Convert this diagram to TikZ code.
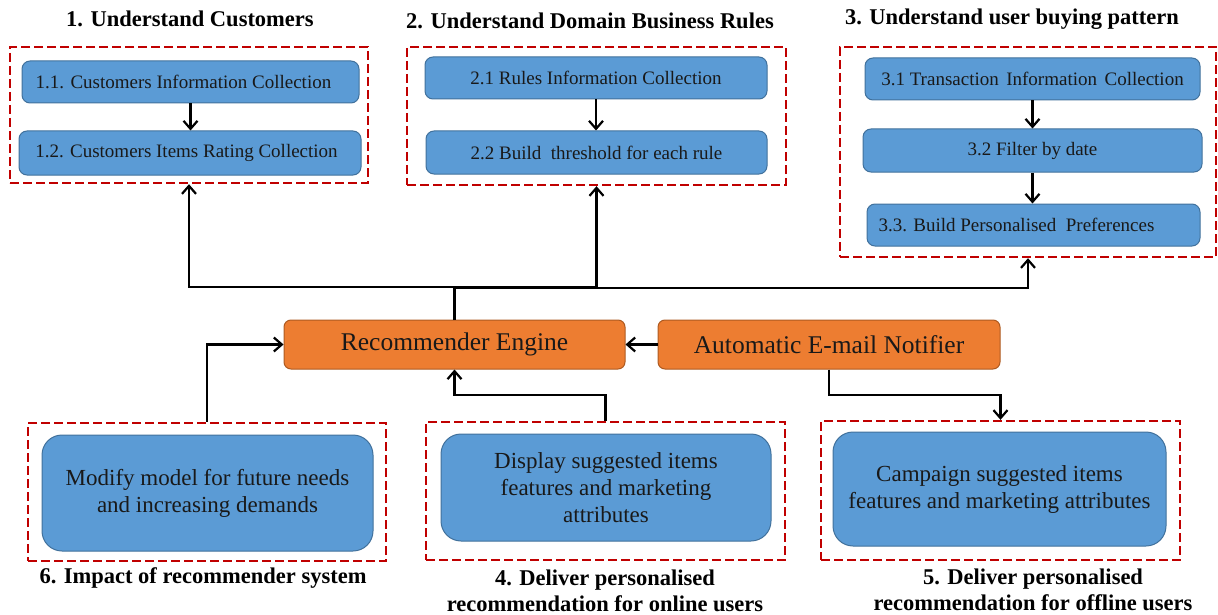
\documentclass[tikz,border=0pt]{standalone}
\usepackage{fontspec}
\setmainfont{Liberation Serif}
\usetikzlibrary{arrows.meta}

\definecolor{boxblue}{HTML}{5B9BD5}
\definecolor{boxblueline}{HTML}{41719C}
\definecolor{boxorange}{HTML}{ED7D31}
\definecolor{boxorangeline}{HTML}{AE5A21}
\definecolor{groupred}{HTML}{C00000}

% trailing gap that shifts a centred label to the left
\newcommand{\padright}[1]{\hspace*{#1}\null}

\tikzset{
  stepbox/.style={draw=boxblueline, line width=1pt, fill=boxblue, rounded corners=8pt,
    inner sep=0pt, font=\fontsize{19}{22}\selectfont, text=black!90},
  bigbox/.style={draw=boxblueline, line width=1pt, fill=boxblue, rounded corners=20pt,
    inner sep=0pt, align=center, font=\fontsize{23}{27}\selectfont, text=black!90},
  enginebox/.style={draw=boxorangeline, line width=1pt, fill=boxorange, rounded corners=7pt,
    inner sep=0pt, font=\fontsize{25.5}{29}\selectfont, text=black!90},
  group/.style={draw=groupred, line width=2.4pt, dash pattern=on 9pt off 4pt, inner sep=0pt},
  heading/.style={font=\fontsize{22.5}{26}\selectfont\bfseries, align=center, inner sep=0pt},
  link/.style={line width=2.2pt, -{Straight Barb[length=8pt,width=14pt,line width=2.2pt]}},
  twolink/.style={line width=2.2pt, {Straight Barb[length=8pt,width=14pt,line width=2.2pt]}-{Straight Barb[length=8pt,width=14pt,line width=2.2pt]}},
}

\begin{document}
\begin{tikzpicture}[x=1pt,y=-1pt]
\useasboundingbox (0,0) rectangle (1218,615);

% headings
\node[heading] (h1) at (190,19) {1. Understand Customers};
\node[heading] (h2) at (590,21) {2. Understand Domain Business Rules};
\node[heading] (h3) at (1012,19) {3. Understand user buying pattern};
\node[heading] (h6) at (203,578) {6. Impact of recommender system};
\node[heading] (h4) at (605,591) {4. Deliver personalised\\recommendation for online users};
\node[heading] (h5) at (1033,590) {5. Deliver personalised\\recommendation for offline users};

% dashed groups
\node[group, minimum width=358pt, minimum height=136pt] (d1) at (189,115) {};
\node[group, minimum width=379pt, minimum height=138pt] (d2) at (596.5,116) {};
\node[group, minimum width=376pt, minimum height=210pt] (d3) at (1028,152) {};
\node[group, minimum width=358pt, minimum height=138pt] (d6) at (207,492) {};
\node[group, minimum width=359pt, minimum height=138pt] (d4) at (605.5,491) {};
\node[group, minimum width=359pt, minimum height=139pt] (d5) at (1000.5,490.5) {};

% group 1
\node[stepbox, minimum width=337pt, minimum height=42pt] (b11) at (190.5,82) {1.1. Customers Information Collection\padright{14pt}};
\node[stepbox, minimum width=342pt, minimum height=44pt] (b12) at (190,153) {1.2. Customers Items Rating Collection\padright{7pt}};
% group 2
\node[stepbox, minimum width=342pt, minimum height=42pt] (b21) at (596,78) {2.1 Rules Information Collection};
\node[stepbox, minimum width=341pt, minimum height=43pt] (b22) at (596.5,152.5) {2.2 Build\ \ threshold for each rule};
% group 3
\node[stepbox, minimum width=335pt, minimum height=42pt] (b31) at (1032.5,79) {3.1 Transaction\hspace{7.5pt}Information\hspace{7.5pt}Collection};
\node[stepbox, minimum width=339pt, minimum height=43pt] (b32) at (1032.5,150.5) {3.2 Filter by date};
\node[stepbox, minimum width=333pt, minimum height=42pt] (b33) at (1033.5,225) {3.3. Build Personalised\ \ Preferences\padright{34pt}};

% engine row
\node[enginebox, minimum width=341pt, minimum height=49pt] (re) at (454.5,344.5) {Recommender Engine};
\node[enginebox, minimum width=342pt, minimum height=49pt] (aen) at (829,344.5) {Automatic E-mail Notifier};

% bottom groups
\node[bigbox, minimum width=331pt, minimum height=116pt] (b6) at (207.5,493) {Modify model for future needs\\and increasing demands};
\node[bigbox, minimum width=330pt, minimum height=107pt] (b4) at (606,487.5) {Display suggested items\\features and marketing\\attributes};
\node[bigbox, minimum width=333pt, minimum height=114pt] (b5) at (999.5,489) {Campaign suggested items\\features and marketing attributes};

% routing rails
\coordinate (topbus) at (0,287);
\coordinate (lowbus) at (0,395);

% arrows inside groups
\draw[link] (b11.south) -- (b11.south |- b12.north);
\draw[link] (b21.south) -- (b21.south |- b22.north);
\draw[link] (b31.south) -- (b31.south |- b32.north);
\draw[link] (b32.south) -- (b32.south |- b33.north);

% engine to the understanding stages
\draw[twolink] (d1.south) -- (d1.south |- topbus) -- (d2.south |- topbus) -- (d2.south);
\draw[link] (re.north) -- ([yshift=-1pt]re.north |- topbus) -| (d3.south);

% notifier and feedback paths
\draw[link] (aen.west) -- (re.east);
\draw[link] (d6.north) |- (re.west);
\draw[link] (d4.north) -- (d4.north |- lowbus) -| (re.south);
\draw[link] (aen.south) -- (aen.south |- lowbus) -| (d5.north);
\end{tikzpicture}
\end{document}
